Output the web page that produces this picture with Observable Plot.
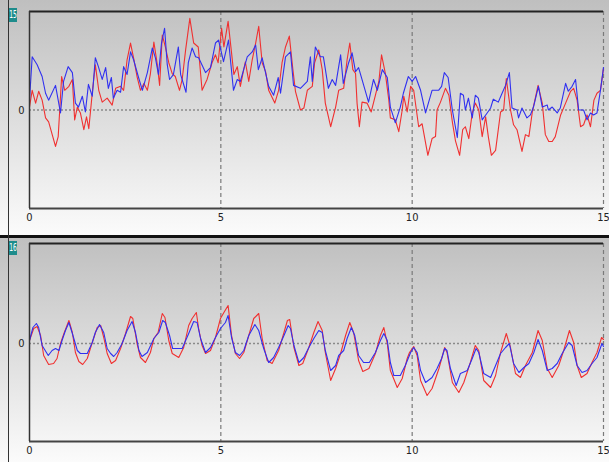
<!DOCTYPE html>
<html><head><meta charset="utf-8">
<script src="https://cdn.jsdelivr.net/npm/d3@7"></script>
<script src="https://cdn.jsdelivr.net/npm/@observablehq/plot@0.6"></script>
<style>
html,body{margin:0;padding:0;width:609px;height:462px;overflow:hidden;background:#fff;}
.panel{position:absolute;left:0;width:609px;background:linear-gradient(#bfbfbf,#fbfbfb);}
.panel svg{display:block;}
.vline{position:absolute;left:8px;top:0;width:1px;height:462px;background:#333;}
.sep{position:absolute;left:0;top:235px;width:609px;height:3px;background:#111;}
.tag{position:absolute;left:9px;width:8px;height:14px;background:#1e8c8c;overflow:hidden;}
.tag span{position:absolute;left:50%;top:0;color:#fff;font:11px 'DejaVu Sans',sans-serif;line-height:14px;white-space:nowrap;transform:translateX(-50%) scaleX(0.55);transform-origin:center;}
</style></head>
<body>
<div id="p1" class="panel" style="top:0;height:235px;"></div>
<div id="p2" class="panel" style="top:238px;height:224px;"></div>
<div class="sep"></div>
<div class="vline"></div>
<div class="tag" style="top:8px;"><span id="t1"></span></div>
<div class="tag" style="top:241px;"><span id="t2"></span></div>
<script>
const channelLabels = ["15", "16"];
const xTicks = [0, 5, 10, 15];
const gridX = [5, 10, 15];
const yTicks = [0];

const topRedT = [0,0.07,0.16,0.24,0.33,0.42,0.50,0.68,0.75,0.84,
0.92,1.03,1.12,1.18,1.25,1.33,1.42,1.49,1.55,1.64,
1.72,1.81,1.90,2.03,2.16,2.25,2.38,2.46,2.55,2.64,
2.73,2.81,2.90,2.99,3.08,3.16,3.25,3.34,3.40,3.47,
3.55,3.64,3.73,3.81,3.92,3.99,4.08,4.19,4.29,4.41,
4.51,4.64,4.77,4.86,4.93,5.02,5.08,5.19,5.28,5.34,
5.43,5.51,5.64,5.73,5.82,5.91,5.99,6.08,6.17,6.25,
6.41,6.51,6.60,6.69,6.79,6.88,6.95,7.08,7.17,7.26,
7.39,7.45,7.56,7.65,7.73,7.87,8.00,8.08,8.21,8.30,
8.37,8.45,8.52,8.56,8.62,8.69,8.82,8.93,9.04,9.13,
9.20,9.30,9.39,9.43,9.56,9.65,9.74,9.78,9.87,9.96,
10.04,10.17,10.26,10.41,10.52,10.61,10.65,10.74,10.87,10.96,
11.05,11.13,11.24,11.32,11.39,11.48,11.57,11.65,11.74,11.83,
11.92,11.99,12.07,12.18,12.31,12.39,12.46,12.57,12.65,12.74,
12.87,12.96,13.05,13.14,13.29,13.40,13.48,13.57,13.66,13.74,
13.88,14.01,14.14,14.22,14.31,14.40,14.48,14.57,14.66,14.75,
14.83,14.92,15.00];
const topRedV = [3,20,7,19,10,-8,-12,-37,-27,34,
20,24,31,-10,3,-3,-20,-7,-19,17,
46,20,8,12,5,22,24,20,51,68,
51,34,20,27,20,37,69,46,25,76,
64,48,37,34,20,31,61,93,68,64,
20,31,48,56,48,83,64,90,58,36,
44,24,49,29,51,68,85,48,39,20,
7,20,48,64,75,42,19,0,2,20,
24,48,61,41,7,-17,3,20,22,51,
68,41,37,7,-17,8,7,-2,15,29,
56,37,10,-8,-10,-22,0,14,-2,24,
20,-17,-14,-46,-29,-27,0,8,22,15,
-12,-31,-46,-20,-17,-29,-3,7,0,-27,
-7,-27,-46,-41,-2,0,32,0,-15,-20,
-42,-25,-27,-2,25,7,-25,-32,-32,-27,
-5,7,19,22,10,-17,-15,-5,-17,10,
17,20,42];

const topBlueT = [0,0.07,0.20,0.33,0.42,0.50,0.68,0.81,0.89,1.01,
1.12,1.20,1.28,1.38,1.46,1.54,1.64,1.72,1.80,1.90,
1.99,2.06,2.14,2.19,2.29,2.38,2.46,2.55,2.64,2.72,
2.85,2.95,3.08,3.21,3.29,3.37,3.45,3.53,3.60,3.66,
3.76,3.89,3.95,4.09,4.15,4.25,4.34,4.42,4.60,4.73,
4.86,4.94,5.07,5.20,5.33,5.43,5.51,5.69,5.82,5.91,
5.98,6.08,6.25,6.38,6.50,6.56,6.69,6.82,6.90,7.08,
7.26,7.34,7.39,7.47,7.60,7.68,7.81,7.91,8.00,8.13,
8.20,8.34,8.43,8.52,8.60,8.86,8.99,9.09,9.22,9.35,
9.43,9.56,9.69,9.77,9.90,10.00,10.09,10.22,10.35,10.52,
10.69,10.77,10.84,10.94,11.05,11.18,11.26,11.34,11.39,11.47,
11.57,11.65,11.73,11.83,11.96,12.05,12.12,12.25,12.35,12.44,
12.54,12.61,12.74,12.78,12.87,13.00,13.09,13.17,13.30,13.40,
13.53,13.56,13.66,13.79,13.87,14.01,14.08,14.18,14.27,14.35,
14.48,14.57,14.66,14.74,14.83,14.92,15.00];
const topBlueV = [10,54,46,34,17,10,25,-3,29,44,
38,7,3,14,-2,26,14,53,44,31,
43,22,33,12,20,18,44,36,59,51,
33,20,38,63,53,36,68,83,46,31,
36,64,36,18,48,63,54,53,38,43,
68,71,49,71,20,31,29,54,59,66,
41,53,24,15,33,17,54,59,25,22,
29,54,29,64,54,54,22,31,25,56,
27,48,58,39,43,8,31,20,41,33,
3,-13,3,17,34,29,34,20,-3,20,
20,24,38,33,0,-28,17,15,0,12,
-8,15,12,-10,-3,2,11,8,17,25,
38,2,0,-8,2,-8,-5,3,24,3,
5,0,3,-3,2,27,19,24,31,0,
0,-10,-3,-5,-3,20,43];

const botRedT = [0,0.11,0.20,0.29,0.37,0.50,0.63,0.72,0.81,0.90,
1.03,1.12,1.20,1.29,1.39,1.51,1.64,1.77,1.86,1.94,
2.03,2.14,2.25,2.38,2.51,2.64,2.70,2.81,2.90,3.03,
3.16,3.25,3.36,3.47,3.54,3.64,3.73,3.90,4.03,4.16,
4.25,4.36,4.42,4.51,4.60,4.73,4.86,4.99,5.08,5.19,
5.28,5.38,5.49,5.60,5.73,5.86,5.99,6.08,6.21,6.34,
6.51,6.65,6.74,6.80,6.91,7.04,7.14,7.30,7.43,7.54,
7.65,7.73,7.87,8.00,8.13,8.26,8.37,8.47,8.60,8.71,
8.87,9.04,9.17,9.26,9.35,9.43,9.61,9.74,9.87,9.93,
10.04,10.13,10.22,10.39,10.52,10.70,10.85,10.91,11.05,11.22,
11.35,11.52,11.65,11.74,11.87,12.05,12.18,12.31,12.46,12.57,
12.70,12.83,12.96,13.14,13.29,13.40,13.53,13.66,13.83,13.96,
14.11,14.22,14.31,14.42,14.57,14.70,14.83,14.95,15.00];
const botRedV = [3,15,17,8,-12,-21,-20,-15,0,10,
23,11,-9,-18,-21,-15,1,16,18,6,
-10,-20,-17,-5,10,27,25,0,-14,-19,
-9,5,11,30,26,3,-10,-14,-4,18,
25,31,15,-2,-10,-7,6,25,31,38,
8,-10,-15,-9,8,25,30,5,-17,-20,
-7,11,23,24,-4,-22,-20,-4,11,22,
13,-9,-37,-25,-10,8,21,11,-17,-28,
-25,-10,8,16,0,-27,-44,-35,-15,-9,
-3,-12,-37,-52,-45,-25,-4,-9,-39,-49,
-39,-19,-2,-7,-37,-44,-32,-9,10,-4,
-30,-34,-22,-9,13,3,-25,-34,-22,-7,
13,1,-22,-34,-30,-19,-9,6,4];

const botBlueT = [0,0.09,0.18,0.24,0.33,0.49,0.59,0.68,0.77,0.85,
0.94,1.03,1.12,1.25,1.33,1.51,1.64,1.72,1.83,1.94,
2.03,2.12,2.20,2.29,2.42,2.55,2.68,2.77,2.86,2.94,
3.08,3.19,3.25,3.38,3.48,3.55,3.66,3.74,3.86,3.99,
4.16,4.29,4.38,4.47,4.60,4.73,4.86,4.99,5.12,5.19,
5.28,5.38,5.49,5.60,5.73,5.89,5.99,6.12,6.25,6.38,
6.51,6.65,6.76,6.82,6.91,7.04,7.17,7.30,7.43,7.56,
7.65,7.73,7.87,8.00,8.08,8.21,8.30,8.41,8.50,8.60,
8.73,8.88,9.04,9.17,9.26,9.35,9.43,9.52,9.69,9.82,
9.96,10.04,10.13,10.22,10.35,10.52,10.65,10.77,10.85,10.91,
11.00,11.15,11.26,11.44,11.57,11.67,11.74,11.87,12.05,12.18,
12.31,12.44,12.54,12.65,12.79,12.92,13.05,13.18,13.29,13.40,
13.53,13.66,13.79,13.92,14.09,14.18,14.31,14.44,14.57,14.70,
14.83,14.96,15.00];
const botBlueV = [3,16,20,16,-2,-12,-7,-5,-7,3,
13,21,10,-7,-10,-10,1,11,19,11,
-5,-10,-13,-9,0,13,22,11,-7,-13,
-9,0,5,11,23,21,8,-5,-5,-5,
10,22,21,5,-9,-4,6,15,21,28,
6,-9,-12,-7,8,19,13,-5,-19,-14,
-4,8,18,15,-2,-19,-14,-4,5,13,
11,-7,-27,-22,-12,-7,5,16,8,-12,
-19,-19,-9,3,10,3,-19,-32,-32,-22,
-9,-4,-9,-27,-39,-34,-25,-15,-5,-7,
-25,-42,-30,-27,-15,-5,-9,-30,-34,-22,
-10,-4,0,-20,-29,-24,-20,-9,4,-7,
-27,-25,-20,-10,1,-2,-22,-29,-27,-20,
-14,0,-3];

const FONT = "'DejaVu Sans Condensed','Liberation Sans Narrow',sans-serif";

function panel(redT, redV, blueT, blueV, yDomain, height, mt, mb) {
  const red = redT.map((t, i) => ({t, v: redV[i]}));
  const blue = blueT.map((t, i) => ({t, v: blueV[i]}));
  return Plot.plot({
    width: 609, height,
    marginLeft: 29, marginRight: 6, marginTop: mt, marginBottom: mb,
    style: {background: "transparent", fontFamily: FONT, fontSize: "11px", color: "#222"},
    x: {domain: [0, 15], ticks: xTicks, tickSize: 0, tickPadding: 5, label: null},
    y: {domain: yDomain, ticks: yTicks, tickSize: 0, tickPadding: 5, label: null},
    marks: [
      Plot.ruleX(gridX, {stroke: "#7a7a7a", strokeWidth: 1.2, strokeDasharray: "4,3"}),
      Plot.ruleY([0], {stroke: "#8a8a8a", strokeWidth: 1.5, strokeDasharray: "2,2"}),
      Plot.line(red, {x: "t", y: "v", stroke: "#f03030", strokeWidth: 1.1}),
      Plot.line(blue, {x: "t", y: "v", stroke: "#3030f0", strokeWidth: 1.1}),
      Plot.ruleY([yDomain[1]], {stroke: "#222", strokeWidth: 2}),
      Plot.ruleY([yDomain[0]], {stroke: "#444", strokeWidth: 2}),
      Plot.ruleX([0], {stroke: "#333", strokeWidth: 1.5})
    ]
  });
}

document.getElementById("p1").appendChild(panel(topRedT, topRedV, topBlueT, topBlueV, [-100, 100], 235, 11, 27));
document.getElementById("p2").appendChild(panel(botRedT, botRedV, botBlueT, botBlueV, [-98, 100], 224, 5, 21));
document.getElementById("t1").textContent = channelLabels[0];
document.getElementById("t2").textContent = channelLabels[1];
</script>
</body></html>
